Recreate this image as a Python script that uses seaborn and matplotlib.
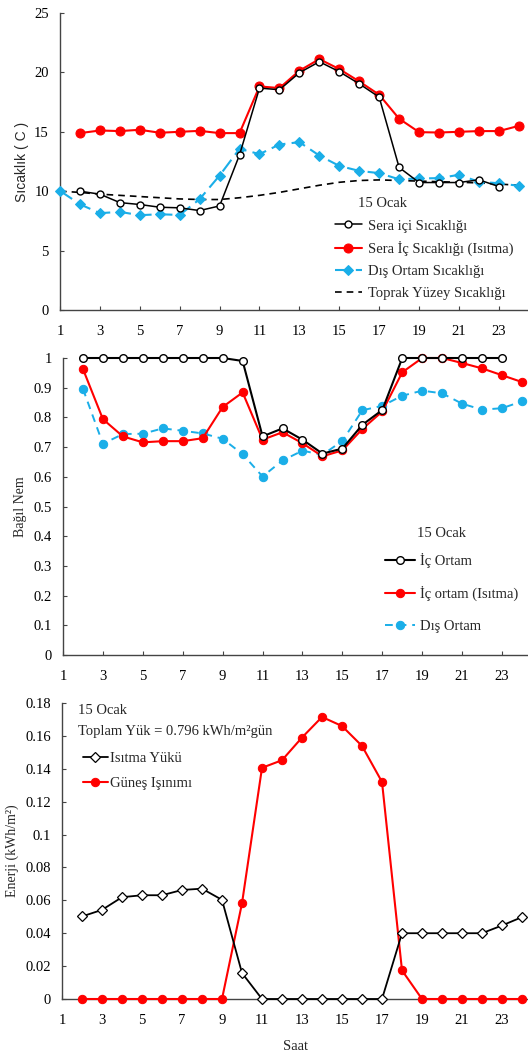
import numpy as np
import pandas as pd
import matplotlib
matplotlib.use("Agg")
import matplotlib.pyplot as plt
import seaborn as sns

# ---------------- data ----------------
hours_all = list(range(1, 25))
hours_2_23 = list(range(2, 24))
hours_2_24 = list(range(2, 25))

# Panel 1: temperatures (C)
sera_ici = [10.0, 9.75, 9.04, 8.88, 8.65, 8.6, 8.37, 8.76, 13.06, 18.68, 18.54,
            19.97, 20.9, 20.06, 19.04, 17.92, 12.0, 10.73, 10.73, 10.73, 10.96, 10.39]
sera_ic_isitma = [14.89, 15.11, 15.06, 15.17, 14.92, 15.0, 15.08, 14.89, 14.89, 18.82,
                  18.68, 20.14, 21.12, 20.28, 19.24, 18.12, 16.1, 14.97, 14.94, 15.0,
                  15.06, 15.06, 15.5]
dis_ortam_t = [10.03, 8.9, 8.15, 8.26, 7.98, 8.06, 8.0, 9.33, 11.32, 13.57, 13.12, 13.93,
               14.13, 13.0, 12.13, 11.71, 11.52, 11.0, 11.07, 11.1, 11.38, 10.79, 10.67, 10.45]
toprak = [10.0, 9.9, 9.75, 9.65, 9.55, 9.45, 9.35, 9.3, 9.3, 9.45, 9.65, 9.9, 10.2,
          10.5, 10.75, 10.9, 10.95, 10.9, 10.85, 10.8, 10.75, 10.7, 10.6, 10.5]

# Panel 2: relative humidity
ic_ortam = [1.0, 1.0, 1.0, 1.0, 1.0, 1.0, 1.0, 1.0, 0.99, 0.736, 0.763, 0.725, 0.678,
            0.695, 0.775, 0.825, 1.0, 1.0, 1.0, 1.0, 1.0, 1.0]
ic_ortam_isitma = [0.963, 0.794, 0.736, 0.716, 0.72, 0.72, 0.73, 0.835, 0.884, 0.725,
                   0.75, 0.713, 0.669, 0.689, 0.761, 0.82, 0.952, 1.0, 1.0, 0.983,
                   0.965, 0.942, 0.919]
dis_ortam_rh = [0.896, 0.711, 0.744, 0.745, 0.763, 0.755, 0.746, 0.728, 0.676, 0.601,
                0.655, 0.688, 0.674, 0.721, 0.824, 0.839, 0.873, 0.89, 0.881, 0.846,
                0.826, 0.831, 0.854]

# Panel 3: energy (kWh/m2)
isitma_yuku = [0.0502, 0.0542, 0.0619, 0.0631, 0.0631, 0.0663, 0.0671, 0.0603, 0.0158,
               0.0, 0.0, 0.0, 0.0, 0.0, 0.0, 0.0, 0.04, 0.04, 0.04, 0.04, 0.04, 0.0447, 0.0498]
gunes = [0.0, 0.0, 0.0, 0.0, 0.0, 0.0, 0.0, 0.0, 0.0582, 0.1406, 0.1452, 0.159, 0.1715,
         0.166, 0.1539, 0.132, 0.0174, 0.0, 0.0, 0.0, 0.0, 0.0, 0.0]

xtick_vals = list(range(1, 24, 2))

# ---------------- style ----------------
sns.set_style("ticks")
plt.rcParams["font.family"] = ["Liberation Serif", "DejaVu Serif"]
plt.rcParams["axes.edgecolor"] = "#444444"
plt.rcParams["xtick.color"] = "#444444"
plt.rcParams["ytick.color"] = "#444444"
plt.rcParams["xtick.labelcolor"] = "black"
plt.rcParams["ytick.labelcolor"] = "black"

RED = "#FF0000"
CYAN = "#1AAEE8"
TICK_FS = 10.5
LEG_FS = 10.5

fig = plt.figure(figsize=(5.28, 10.55), dpi=100)
W, H = 528.0, 1055.0


def add_ax(left_px, top_px, bottom_px):
    return fig.add_axes([left_px / W, 1 - bottom_px / H, 1 - left_px / W,
                         (bottom_px - top_px) / H])


def style_ax(ax):
    sns.despine(ax=ax)
    ax.set_xticks(xtick_vals)
    ax.tick_params(axis="both", direction="in", length=3, width=0.8,
                   labelsize=TICK_FS)
    ax.tick_params(axis="x", pad=11)
    ax.tick_params(axis="y", pad=8)
    ax.spines["left"].set_linewidth(1.0)
    ax.spines["bottom"].set_linewidth(1.0)
    ax.set_xlabel("")
    ax.grid(False)


# ---------- Panel 1 ----------
ax1 = add_ax(60, 13, 310)
d1 = pd.DataFrame({"Saat": hours_2_23, "v": sera_ici})
d2 = pd.DataFrame({"Saat": hours_2_24, "v": sera_ic_isitma})
d3 = pd.DataFrame({"Saat": hours_all, "v": dis_ortam_t})
d4 = pd.DataFrame({"Saat": hours_all, "v": toprak})

sns.lineplot(data=d4, x="Saat", y="v", ax=ax1, color="black", linestyle=(0, (4, 3)),
             linewidth=1.2, label="Toprak Yüzey Sıcaklığı", zorder=2)
sns.lineplot(data=d3, x="Saat", y="v", ax=ax1, color=CYAN, linestyle=(0, (7, 3)),
             linewidth=1.5, marker="D", markersize=5, markeredgecolor=CYAN,
             label="Dış Ortam Sıcaklığı", zorder=3, clip_on=False)
sns.lineplot(data=d2, x="Saat", y="v", ax=ax1, color=RED, linewidth=1.5, marker="o",
             markersize=6.5, markeredgecolor=RED, label="Sera İç Sıcaklığı (Isıtma)",
             zorder=4, clip_on=False)
sns.lineplot(data=d1, x="Saat", y="v", ax=ax1, color="black", linewidth=1.1, marker="o",
             markersize=5, markerfacecolor="white", markeredgecolor="black",
             markeredgewidth=1.0, label="Sera içi Sıcaklığı", zorder=5, clip_on=False)
ax1.set_xlim(1, 24.46)
ax1.set_ylim(0, 25)
ax1.set_yticks([0, 5, 10, 15, 20, 25])
style_ax(ax1)
ax1.set_ylabel("Sıcaklık ( C )", family=["Liberation Sans", "DejaVu Sans"], fontsize=10)
ax1.yaxis.set_label_coords(-0.066, 0.5)
h, l = ax1.get_legend_handles_labels()
order = [3, 2, 1, 0]
ax1.legend([h[i] for i in order], [l[i] for i in order], loc="upper left",
           bbox_to_anchor=(0.575, 0.325), frameon=False, fontsize=LEG_FS,
           handlelength=1.85, handletextpad=0.4, labelspacing=0.6, borderaxespad=0)
ax1.text(0.637, 0.358, "15 Ocak", transform=ax1.transAxes, fontsize=LEG_FS,
         ha="left", va="center")

# ---------- Panel 2 ----------
ax2 = add_ax(63, 358, 655)
e1 = pd.DataFrame({"Saat": hours_2_23, "v": ic_ortam})
e2 = pd.DataFrame({"Saat": hours_2_24, "v": ic_ortam_isitma})
e3 = pd.DataFrame({"Saat": hours_2_24, "v": dis_ortam_rh})

sns.lineplot(data=e3, x="Saat", y="v", ax=ax2, color=CYAN, linestyle=(0, (4, 3)),
             linewidth=1.4, marker="o", markersize=6, markeredgecolor=CYAN,
             label="Dış Ortam", zorder=3, clip_on=False)
sns.lineplot(data=e2, x="Saat", y="v", ax=ax2, color=RED, linewidth=1.5, marker="o",
             markersize=6, markeredgecolor=RED, label="İç ortam (Isıtma)", zorder=4,
             clip_on=False)
sns.lineplot(data=e1, x="Saat", y="v", ax=ax2, color="black", linewidth=1.5, marker="o",
             markersize=5.5, markerfacecolor="white", markeredgecolor="black",
             markeredgewidth=1.0, label="İç Ortam", zorder=5, clip_on=False)
ax2.set_xlim(1, 24.3)
ax2.set_ylim(0, 1)
ax2.set_yticks([0, 0.1, 0.2, 0.3, 0.4, 0.5, 0.6, 0.7, 0.8, 0.9, 1.0])
ax2.set_yticklabels(["0", "0.1", "0.2", "0.3", "0.4", "0.5", "0.6", "0.7", "0.8", "0.9", "1"])
style_ax(ax2)
ax2.set_ylabel("Bağıl Nem", fontsize=10)
ax2.yaxis.set_label_coords(-0.077, 0.5)
h, l = ax2.get_legend_handles_labels()
order = [2, 1, 0]
ax2.legend([h[i] for i in order], [l[i] for i in order], loc="upper left",
           bbox_to_anchor=(0.68, 0.364), frameon=False, fontsize=LEG_FS,
           handlelength=2.05, handletextpad=0.35, labelspacing=1.27, borderaxespad=0)
ax2.text(0.761, 0.41, "15 Ocak", transform=ax2.transAxes, fontsize=LEG_FS,
         ha="left", va="center")

# ---------- Panel 3 ----------
ax3 = add_ax(62, 703, 999)
f1 = pd.DataFrame({"Saat": hours_2_24, "v": isitma_yuku})
f2 = pd.DataFrame({"Saat": hours_2_24, "v": gunes})

sns.lineplot(data=f2, x="Saat", y="v", ax=ax3, color=RED, linewidth=1.5, marker="o",
             markersize=6, markeredgecolor=RED, label="Güneş Işınımı", zorder=3,
             clip_on=False)
sns.lineplot(data=f1, x="Saat", y="v", ax=ax3, color="black", linewidth=1.3, marker="D",
             markersize=5, markerfacecolor="white", markeredgecolor="black",
             markeredgewidth=0.9, label="Isıtma Yükü", zorder=4, clip_on=False)
ax3.set_xlim(1, 24.3)
ax3.set_ylim(0, 0.18)
yt = [0, 0.02, 0.04, 0.06, 0.08, 0.1, 0.12, 0.14, 0.16, 0.18]
ax3.set_yticks(yt)
ax3.set_yticklabels(["0", "0.02", "0.04", "0.06", "0.08", "0.1", "0.12", "0.14", "0.16", "0.18"])
style_ax(ax3)
ax3.set_ylabel("Enerji (kWh/m²)", fontsize=10)
ax3.yaxis.set_label_coords(-0.092, 0.5)
ax3.set_xlabel("Saat", fontsize=10.5, labelpad=9)
h, l = ax3.get_legend_handles_labels()
order = [1, 0]
ax3.legend([h[i] for i in order], [l[i] for i in order], loc="upper left",
           bbox_to_anchor=(0.032, 0.855), frameon=False, fontsize=LEG_FS,
           handlelength=1.7, handletextpad=0.15, labelspacing=0.83, borderaxespad=0)
ax3.text(0.035, 0.975, "15 Ocak", transform=ax3.transAxes, fontsize=LEG_FS,
         ha="left", va="center")
ax3.text(0.035, 0.905, "Toplam Yük = 0.796 kWh/m²gün", transform=ax3.transAxes,
         fontsize=LEG_FS, ha="left", va="center")

fig.savefig("out.png", dpi=100)
